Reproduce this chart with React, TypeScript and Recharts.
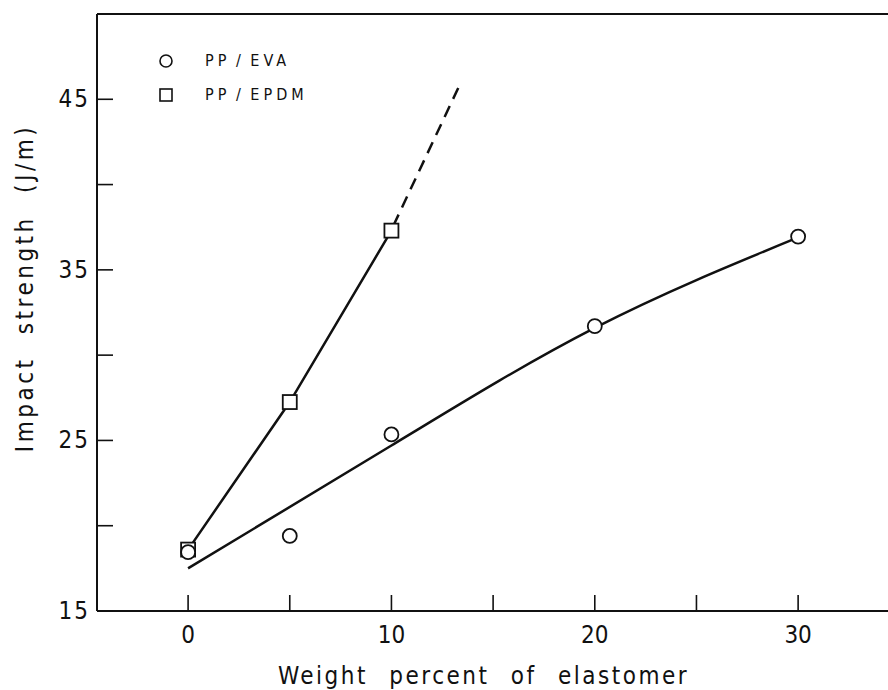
import React from 'react'
import { ComposedChart, Line, Scatter, XAxis, YAxis, ReferenceLine, Legend, Label } from 'recharts'

// measured points
const evaPoints = [
  { x: 0, y: 18.45 },
  { x: 5, y: 19.4 },
  { x: 10, y: 25.35 },
  { x: 20, y: 31.7 },
  { x: 30, y: 36.95 },
]
const epdmPoints = [
  { x: 0, y: 18.6 },
  { x: 5, y: 27.25 },
  { x: 10, y: 37.3 },
]
// drawn curves
const evaFit = [
  { x: 0, y: 17.5 },
  { x: 10, y: 24.7 },
  { x: 20, y: 31.6 },
  { x: 30, y: 36.9 },
]
const epdmExtrapolated = [
  { x: 10.1, y: 37.6 },
  { x: 13.3, y: 45.7 },
]
const xTicks = [0, 5, 10, 15, 20, 25, 30]
const yTicks = [15, 20, 25, 30, 35, 40, 45]

const FONT = "'DejaVu Sans Condensed', 'DejaVu Sans', sans-serif"
const INK = '#111'

const XTick = (props: any) => {
  const { x, y, payload } = props
  const v = payload.value
  return (
    <g>
      <line x1={x} x2={x} y1={y} y2={y - 16} stroke={INK} strokeWidth={1.6} />
      {v % 10 === 0 && (
        <text x={x} y={y + 32} textAnchor="middle" fontSize={24} fontFamily={FONT} fill={INK}>
          {v}
        </text>
      )}
    </g>
  )
}

const YTick = (props: any) => {
  const { x, y, payload } = props
  const v = payload.value
  return (
    <g>
      <line x1={x} x2={x + 16} y1={y} y2={y} stroke={INK} strokeWidth={1.6} />
      {(v - 15) % 10 === 0 && (
        <text x={x - 7} y={y + 8} textAnchor="end" fontSize={24} letterSpacing={2} fontFamily={FONT} fill={INK}>
          {v}
        </text>
      )}
    </g>
  )
}

const Circle = (props: any) => (
  <circle cx={props.cx} cy={props.cy} r={7} fill="#fff" stroke={INK} strokeWidth={1.8} />
)
const Square = (props: any) => (
  <rect x={props.cx - 7} y={props.cy - 7} width={14} height={14} fill="#fff" stroke={INK} strokeWidth={1.8} />
)

const LegendBox = () => (
  <div style={{ fontFamily: FONT, fontSize: 16, letterSpacing: 4, wordSpacing: -3, color: INK, lineHeight: '34px' }}>
    <div style={{ display: 'flex', alignItems: 'center' }}>
      <svg width={50} height={20}>
        <circle cx={11} cy={10} r={6} fill="#fff" stroke={INK} strokeWidth={1.6} />
      </svg>
      <span>PP / EVA</span>
    </div>
    <div style={{ display: 'flex', alignItems: 'center' }}>
      <svg width={50} height={20}>
        <rect x={5} y={4} width={12} height={12} fill="#fff" stroke={INK} strokeWidth={1.6} />
      </svg>
      <span>PP / EPDM</span>
    </div>
  </div>
)

export default function App() {
  return (
    <div style={{ position: 'absolute', left: 0, top: 0, background: '#fff' }}>
      <ComposedChart width={888} height={690} margin={{ top: 14, right: 0, bottom: 0, left: 0 }}>
        <XAxis
          type="number"
          dataKey="x"
          domain={[-4.48, 34.42]}
          allowDataOverflow
          ticks={xTicks}
          tickSize={0}
          tickMargin={0}
          tick={<XTick />}
          height={79}
          axisLine={{ stroke: INK, strokeWidth: 2 }}
          tickLine={false}
          interval={0}
        >
          <Label
            content={(p: any) => (
              <text
                x={p.viewBox.x + p.viewBox.width / 2 - 9}
                y={p.viewBox.y + 73}
                textAnchor="middle"
                fontSize={24}
                letterSpacing={2.5}
                wordSpacing={12}
                fontFamily={FONT}
                fill={INK}
              >
                Weight percent of elastomer
              </text>
            )}
          />
        </XAxis>
        <YAxis
          type="number"
          dataKey="y"
          domain={[15, 50]}
          allowDataOverflow
          ticks={yTicks}
          tickSize={0}
          tickMargin={0}
          tick={<YTick />}
          width={97}
          axisLine={{ stroke: INK, strokeWidth: 2 }}
          tickLine={false}
          interval={0}
        >
          <Label
            content={(p: any) => (
              <text
                transform={`translate(${p.viewBox.x + 33}, 288) rotate(-90)`}
                textAnchor="middle"
                fontSize={24}
                letterSpacing={3.5}
                wordSpacing={12}
                fontFamily={FONT}
                fill={INK}
              >
                Impact strength (J/m)
              </text>
            )}
          />
        </YAxis>
        <ReferenceLine y={50} stroke={INK} strokeWidth={2} />
        <Legend
          layout="horizontal"
          verticalAlign="middle"
          align="center"
          content={<LegendBox />}
          wrapperStyle={{ left: 155, top: 44, width: 240 }}
        />
        <Line data={evaFit} dataKey="y" type="natural" stroke={INK} strokeWidth={2.5} dot={false} isAnimationActive={false} legendType="none" />
        <Line data={epdmPoints} dataKey="y" type="linear" stroke={INK} strokeWidth={2.5} dot={false} isAnimationActive={false} legendType="none" />
        <Line data={epdmExtrapolated} dataKey="y" type="linear" stroke={INK} strokeWidth={2.5} strokeDasharray="12 8" dot={false} isAnimationActive={false} legendType="none" />
        <Scatter data={epdmPoints} dataKey="y" shape={<Square />} isAnimationActive={false} name="PP / EPDM" />
        <Scatter data={evaPoints} dataKey="y" shape={<Circle />} isAnimationActive={false} name="PP / EVA" />
      </ComposedChart>
    </div>
  )
}
